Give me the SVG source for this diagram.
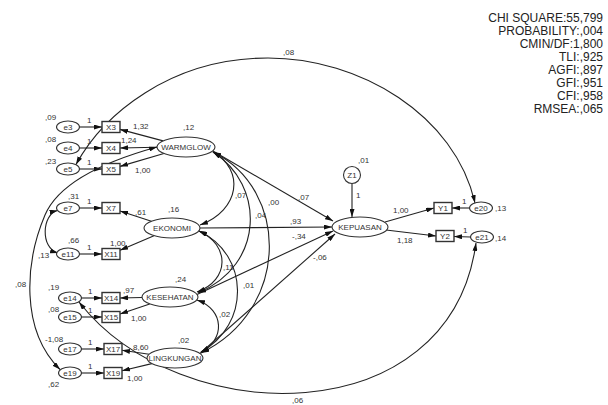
<svg xmlns="http://www.w3.org/2000/svg" width="608" height="405" viewBox="0 0 608 405">
<defs>
<marker id="ah" viewBox="0 0 8 5" refX="8" refY="2.5" markerWidth="8" markerHeight="5" markerUnits="userSpaceOnUse" orient="auto-start-reverse" preserveAspectRatio="none">
<path d="M0,0 L8,2.5 L0,5 z" fill="#111"/>
</marker>
<style>
.sh{fill:#fff;stroke:#333;stroke-width:1.1}
.bx{fill:#fff;stroke:#333;stroke-width:1.4}
.nt{font-family:"Liberation Sans",Arial,sans-serif;font-size:8px;fill:#333;text-anchor:middle}
.lb{font-family:"Liberation Sans",Arial,sans-serif;font-size:8px;fill:#333}
.st{font-family:"Liberation Sans",Arial,sans-serif;font-size:12px;fill:#222;text-anchor:end}
.c{fill:none;stroke:#222;stroke-width:1.1}
.a{marker-end:url(#ah)}
.d{marker-start:url(#ah);marker-end:url(#ah)}
</style>
</defs>
<rect width="608" height="405" fill="#fff"/>

<g id="connectors">
<!-- error to indicator -->
<path class="c a" d="M79.5,127 L102,127"/>
<path class="c a" d="M79.5,148 L102,148"/>
<path class="c a" d="M79.5,169 L102,169"/>
<path class="c a" d="M79.5,208 L102,208"/>
<path class="c a" d="M79.5,254 L102,254"/>
<path class="c a" d="M81.5,298 L102,298"/>
<path class="c a" d="M81.5,317 L102,317"/>
<path class="c a" d="M81.5,349 L104,349"/>
<path class="c a" d="M81.5,373 L104,373"/>
<!-- latent to indicator -->
<path class="c a" d="M163.1,140.9 L120,129.4"/>
<path class="c a" d="M157,147.2 L120,148"/>
<path class="c a" d="M163.9,153.5 L120,166.4"/>
<path class="c a" d="M151.4,221.2 L120,211"/>
<path class="c a" d="M154,235.7 L120,250.2"/>
<path class="c a" d="M142,297.5 L120,298"/>
<path class="c a" d="M149.7,303.9 L120,314"/>
<path class="c a" d="M149.1,354.2 L122,350.3"/>
<path class="c a" d="M151.8,363.6 L122,370.8"/>
<!-- structural paths -->
<path class="c a" d="M213,151 L333,221"/>
<path class="c a" d="M200,228 L332,227"/>
<path class="c a" d="M197,294.4 L333,231"/>
<path class="c a" d="M200,353.5 L335,234"/>
<path class="c a" d="M352,183.5 L352,217"/>
<path class="c a" d="M385,222 L434,208"/>
<path class="c a" d="M386,230 L436,236"/>
<path class="c a" d="M469.5,208 L452,208"/>
<path class="c a" d="M470.5,237 L454,236.5"/>
<!-- covariances between latents -->
<path class="c d" d="M213,152 C245,170 240,210 200,225"/>
<path class="c d" d="M213,152 C265,185 265,265 198,293"/>
<path class="c d" d="M213,152 C290,190 290,310 201,353"/>
<path class="c d" d="M199,231 C230,245 230,280 197,292"/>
<path class="c d" d="M199,231 C250,255 250,325 201,352"/>
<path class="c d" d="M197,300 C225,310 225,340 201,352"/>
<!-- error covariances -->
<path class="c d" d="M57.5,210.5 C42,214 40,248 58,253"/>
<path class="c d" d="M157,147 C110,160 60,180 45,215 C25,262 20,330 60,369.5"/>
<path class="c d" d="M76,164.5 C103,115 170,58 268,58 C360,58 455,115 475,203"/>
<path class="c d" d="M79,302 C180,431 450,434 476,243"/>
</g>

<g id="e3"><ellipse class="sh" cx="68" cy="127" rx="11.5" ry="6"/><text class="nt" x="68" y="130">e3</text></g>
<g id="e4"><ellipse class="sh" cx="68" cy="148" rx="11.5" ry="6"/><text class="nt" x="68" y="151">e4</text></g>
<g id="e5"><ellipse class="sh" cx="68" cy="169" rx="11.5" ry="6"/><text class="nt" x="68" y="172">e5</text></g>
<g id="e7"><ellipse class="sh" cx="68" cy="208" rx="11.5" ry="6"/><text class="nt" x="68" y="211">e7</text></g>
<g id="e11"><ellipse class="sh" cx="68" cy="254" rx="11.5" ry="6"/><text class="nt" x="68" y="257">e11</text></g>
<g id="e14"><ellipse class="sh" cx="70" cy="298" rx="11.5" ry="6"/><text class="nt" x="70" y="301">e14</text></g>
<g id="e15"><ellipse class="sh" cx="70" cy="317" rx="11.5" ry="6"/><text class="nt" x="70" y="320">e15</text></g>
<g id="e17"><ellipse class="sh" cx="70" cy="349" rx="11.5" ry="6"/><text class="nt" x="70" y="352">e17</text></g>
<g id="e19"><ellipse class="sh" cx="70" cy="373" rx="11.5" ry="6"/><text class="nt" x="70" y="376">e19</text></g>
<g id="e20"><ellipse class="sh" cx="481" cy="208" rx="11.5" ry="6"/><text class="nt" x="481" y="211">e20</text></g>
<g id="e21"><ellipse class="sh" cx="482" cy="237" rx="11.5" ry="6"/><text class="nt" x="482" y="240">e21</text></g>

<g id="X3"><rect class="bx" x="102" y="121.5" width="18" height="11"/><text class="nt" x="111" y="130">X3</text></g>
<g id="X4"><rect class="bx" x="102" y="142.5" width="18" height="11"/><text class="nt" x="111" y="151">X4</text></g>
<g id="X5"><rect class="bx" x="102" y="163.5" width="18" height="11"/><text class="nt" x="111" y="172">X5</text></g>
<g id="X7"><rect class="bx" x="102" y="202.5" width="18" height="11"/><text class="nt" x="111" y="211">X7</text></g>
<g id="X11"><rect class="bx" x="102" y="248.5" width="18" height="11"/><text class="nt" x="111" y="257">X11</text></g>
<g id="X14"><rect class="bx" x="102" y="292.5" width="18" height="11"/><text class="nt" x="111" y="301">X14</text></g>
<g id="X15"><rect class="bx" x="102" y="311.5" width="18" height="11"/><text class="nt" x="111" y="320">X15</text></g>
<g id="X17"><rect class="bx" x="104" y="343.5" width="18" height="11"/><text class="nt" x="113" y="352">X17</text></g>
<g id="X19"><rect class="bx" x="104" y="367.5" width="18" height="11"/><text class="nt" x="113" y="376">X19</text></g>
<g id="Y1"><rect class="bx" x="434" y="202.5" width="18" height="11"/><text class="nt" x="443" y="211">Y1</text></g>
<g id="Y2"><rect class="bx" x="436" y="230.5" width="18" height="11"/><text class="nt" x="445" y="239">Y2</text></g>

<g id="WARMGLOW"><ellipse class="sh" cx="186" cy="147" rx="29" ry="10"/><text class="nt" x="186" y="150">WARMGLOW</text></g>
<g id="EKONOMI"><ellipse class="sh" cx="172" cy="228" rx="28" ry="10"/><text class="nt" x="172" y="231">EKONOMI</text></g>
<g id="KESEHATAN"><ellipse class="sh" cx="170" cy="297" rx="28" ry="10"/><text class="nt" x="170" y="300">KESEHATAN</text></g>
<g id="LINGKUNGAN"><ellipse class="sh" cx="175" cy="358" rx="28" ry="10"/><text class="nt" x="175" y="361">LINGKUNGAN</text></g>
<g id="KEPUASAN"><ellipse class="sh" cx="360" cy="227" rx="28" ry="10"/><text class="nt" x="360" y="230">KEPUASAN</text></g>
<g id="Z1"><circle class="sh" cx="352" cy="175" r="8.5"/><text class="nt" x="352" y="178">Z1</text></g>

<g id="labels">
<text class="lb" x="45" y="120">,09</text>
<text class="lb" x="45" y="142">,08</text>
<text class="lb" x="45" y="164">,23</text>
<text class="lb" x="68" y="199">,31</text>
<text class="lb" x="68" y="243">,66</text>
<text class="lb" x="38" y="258">,13</text>
<text class="lb" x="48" y="290">,19</text>
<text class="lb" x="48" y="312">,08</text>
<text class="lb" x="45" y="342">-1,08</text>
<text class="lb" x="48" y="387">,62</text>
<text class="lb" x="15" y="287">,08</text>
<text class="lb" x="87" y="122.5">1</text>
<text class="lb" x="87" y="143.5">1</text>
<text class="lb" x="87" y="164.5">1</text>
<text class="lb" x="87" y="203.5">1</text>
<text class="lb" x="87" y="249.5">1</text>
<text class="lb" x="88" y="293.5">1</text>
<text class="lb" x="88" y="312.5">1</text>
<text class="lb" x="88" y="344.5">1</text>
<text class="lb" x="88" y="368.5">1</text>
<text class="lb" x="133" y="129">1,32</text>
<text class="lb" x="121" y="143">1,24</text>
<text class="lb" x="135" y="173">1,00</text>
<text class="lb" x="135" y="215">,61</text>
<text class="lb" x="110" y="246">1,00</text>
<text class="lb" x="123" y="293">,97</text>
<text class="lb" x="131" y="321">1,00</text>
<text class="lb" x="133" y="350">8,60</text>
<text class="lb" x="127" y="381">1,00</text>
<text class="lb" x="183" y="130">,12</text>
<text class="lb" x="168" y="212">,16</text>
<text class="lb" x="175" y="282">,24</text>
<text class="lb" x="178" y="343">,02</text>
<text class="lb" x="298" y="200">,07</text>
<text class="lb" x="290" y="224">,93</text>
<text class="lb" x="292" y="239">-,34</text>
<text class="lb" x="313" y="260">-,06</text>
<text class="lb" x="358" y="163">,01</text>
<text class="lb" x="356" y="198">1</text>
<text class="lb" x="235" y="198">,07</text>
<text class="lb" x="255" y="218">,04</text>
<text class="lb" x="268" y="205">,00</text>
<text class="lb" x="223" y="270">,11</text>
<text class="lb" x="243" y="288">,01</text>
<text class="lb" x="219" y="317">,02</text>
<text class="lb" x="393" y="213">1,00</text>
<text class="lb" x="397" y="243">1,18</text>
<text class="lb" x="495" y="211">,13</text>
<text class="lb" x="495" y="241">,14</text>
<text class="lb" x="462" y="204">1</text>
<text class="lb" x="463" y="233">1</text>
<text class="lb" x="283" y="55">,08</text>
<text class="lb" x="292" y="403">,06</text>
</g>

<g id="fit-stats">
<text class="st" x="603" y="22">CHI SQUARE:55,799</text>
<text class="st" x="603" y="35">PROBABILITY:,004</text>
<text class="st" x="603" y="48">CMIN/DF:1,800</text>
<text class="st" x="603" y="61">TLI:,925</text>
<text class="st" x="603" y="74">AGFI:,897</text>
<text class="st" x="603" y="87">GFI:,951</text>
<text class="st" x="603" y="100">CFI:,958</text>
<text class="st" x="603" y="113">RMSEA:,065</text>
</g>
</svg>
